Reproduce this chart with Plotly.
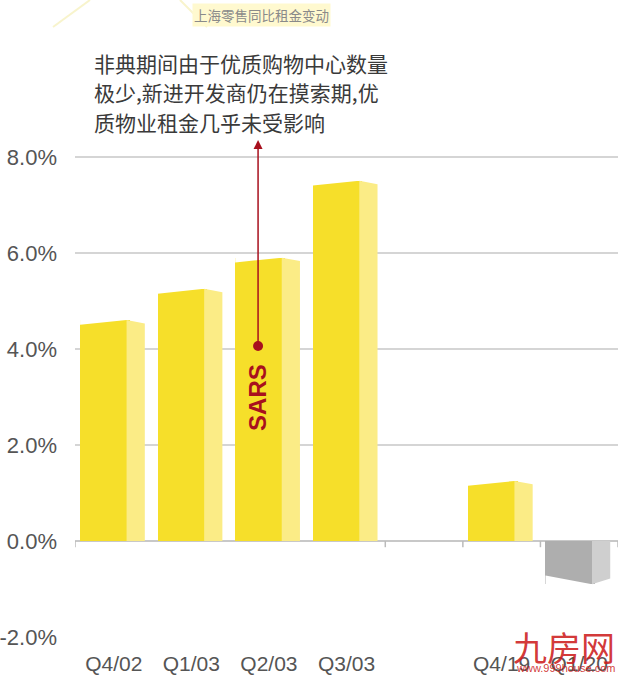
import plotly.graph_objects as go

categories = ["Q4/02", "Q1/03", "Q2/03", "Q3/03", " ", "Q4/19", "Q1/20"]
values = [4.6, 5.25, 5.9, 7.5, None, 1.25, -0.9]
y_ticks = [-2, 0, 2, 4, 6, 8]
note_lines = ["非典期间由于优质购物中心数量", "极少,新进开发商仍在摸索期,优", "质物业租金几乎未受影响"]
title_text = "上海零售同比租金变动"

front_yellow = "#F6DF2A"
side_yellow = "#FBEC86"
front_gray = "#AEAEAE"
side_gray = "#CFCFCF"
red = "#A8101E"

# window -> paper helpers (plot area spans x 75..618, y 152..637 in the browser window)
def px(xw):
    return (xw - 75) / 543

def py(yw):
    return (637 - yw) / 485

xs = list(range(len(categories)))
fig = go.Figure()

fig.add_trace(go.Bar(
    x=xs, y=values, width=0.64, offset=-0.435,
    marker=dict(color=[front_gray if (v is not None and v < 0) else front_yellow for v in values],
                line=dict(width=0)),
    hoverinfo="skip", showlegend=False,
))

shapes = []
for i, v in enumerate(values):
    if v is None:
        continue
    x0 = i - 0.435
    x1 = x0 + 0.60
    x2 = i + 0.40
    if v >= 0:
        path = f"M {x1},0 L {x1},{v} L {x2},{v-0.07} L {x2},0 Z"
        col = side_yellow
        shapes.append(dict(type="path", path=f"M {x0},{v} L {x1},{v} L {x0},{v-0.1} Z",
                           xref="x", yref="y", fillcolor="white", line=dict(width=0), layer="above"))
    else:
        path = f"M {x1},0 L {x1},{v} L {x2},{v+0.12} L {x2},0 Z"
        col = side_gray
        shapes.append(dict(type="path", path=f"M {x0},{v} L {x1},{v} L {x0},{v+0.18} Z",
                           xref="x", yref="y", fillcolor="white", line=dict(width=0), layer="above"))
    shapes.append(dict(type="path", path=path, xref="x", yref="y",
                       fillcolor=col, line=dict(width=0), layer="above"))

for b in [-0.5, 3.5, 4.5, 5.5, 6.5]:
    shapes.append(dict(type="line", xref="x", yref="y", x0=b, x1=b, y0=0, y1=-0.13,
                       line=dict(color="#BBBBBB", width=1.5), layer="above"))

# faint decorative lines at top-left
for (a, b_, c, d) in [(53, 27, 90, 0), (180, 0, 207, 27)]:
    shapes.append(dict(type="line", xref="paper", yref="paper", x0=px(a), y0=py(b_), x1=px(c), y1=py(d),
                       line=dict(color="#F8F4CC", width=2)))

fig.add_trace(go.Scatter(x=[1.86], y=[4.06], mode="markers",
                         marker=dict(color=red, size=10), hoverinfo="skip",
                         showlegend=False, cliponaxis=False))

annotations = [
    dict(x=1.86, y=py(140), xref="x", yref="paper", ax=0, ay=206,
         showarrow=True, arrowhead=2, arrowsize=1.2, arrowwidth=1.5, arrowcolor=red,
         text=""),
    dict(x=1.86, y=2.98, xref="x", yref="y", text="<b>SARS</b>", textangle=-90,
         showarrow=False, font=dict(family="Liberation Sans, Arial", size=24, color=red)),
    dict(x=px(261), y=py(15), xref="paper", yref="paper", xanchor="center", yanchor="middle",
         showarrow=False, text=title_text, bgcolor="#FFF9CF",
         font=dict(family="Noto Sans CJK SC", size=13.5, color="#8A8A8A")),
    dict(x=px(617), y=py(646), xref="paper", yref="paper", xanchor="right", yanchor="middle",
         showarrow=False, text="九房网",
         font=dict(family="Noto Sans CJK SC", size=34, color="rgba(205,30,30,0.9)")),
    dict(x=px(617), y=py(668), xref="paper", yref="paper", xanchor="right", yanchor="middle",
         showarrow=False, text="www.999house.com",
         font=dict(family="Liberation Sans", size=11, color="rgba(205,30,30,0.9)")),
]
for yw, line in zip([63, 92, 122], note_lines):
    annotations.append(dict(x=px(92), y=py(yw), xref="paper", yref="paper", xanchor="left",
                            yanchor="middle", showarrow=False, text=line,
                            font=dict(family="Noto Sans CJK SC", size=21, color="#3A3A3A")))

fig.update_layout(
    width=625, height=677,
    margin=dict(l=75, r=7, t=152, b=40),
    paper_bgcolor="white", plot_bgcolor="white",
    bargap=0,
    shapes=shapes,
    annotations=annotations,
    xaxis=dict(tickmode="array", tickvals=xs, ticktext=categories, range=[-0.5, 6.5],
               showgrid=False, showline=False, ticks="", ticklabelstandoff=12, automargin=False,
               tickfont=dict(family="Liberation Sans, Arial", size=21, color="#555555"),
               fixedrange=True),
    yaxis=dict(range=[-2, 8.1], tickvals=y_ticks, ticktext=[f"{t:.1f}%" for t in y_ticks],
               showgrid=True, gridcolor="#D5D5D5", gridwidth=1.5,
               zeroline=True, zerolinecolor="#C8C8C8", zerolinewidth=1.5,
               ticks="", ticklabelstandoff=17, automargin=False,
               tickfont=dict(family="Liberation Sans, Arial", size=22, color="#555555"),
               fixedrange=True),
)

fig.write_html("out.html", config={"displayModeBar": False},
               post_script="document.body.style.margin='0px';")
